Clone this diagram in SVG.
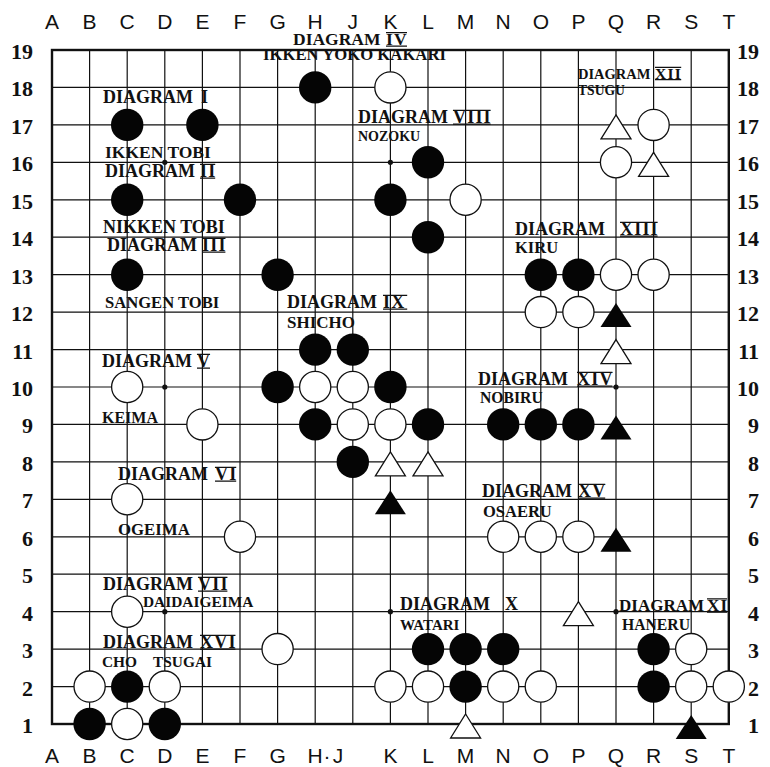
<svg xmlns="http://www.w3.org/2000/svg" xmlns:xlink="http://www.w3.org/1999/xlink" width="770" height="767" viewBox="0 0 770 767">
<style>
.grid{fill:none;stroke:#111;stroke-width:1.2}
.border{fill:none;stroke:#111;stroke-width:2.4}
.b{fill:#050505}
.w{fill:#fff;stroke:#111;stroke-width:1.3}
.tw{fill:#fff;stroke:#111;stroke-width:1.3;stroke-linejoin:miter}
.tb{fill:#050505}
.hoshi{fill:#111}
.col{font-family:"Liberation Sans",Arial,sans-serif;font-size:21px;fill:#111;text-anchor:middle}
.row{font-family:"Liberation Serif","Times New Roman",serif;font-size:22px;font-weight:bold;fill:#111}
.lab{font-family:"Liberation Serif","Times New Roman",serif;font-weight:bold;fill:#111}
.d{font-size:18px}
.num{letter-spacing:1.2px}
.bar{fill:none;stroke:#111;stroke-width:1.2}
</style>
<defs>
<path id="triW" d="M0,-10 L15,14 L-15,14 Z"/>
<path id="triB" d="M0,-9 L15.5,15 L-15.5,15 Z"/>
</defs>
<rect width="770" height="767" fill="#fff"/>

<g id="board">
<path class="grid" d="M89.6 50V724M127.2 50V724M164.8 50V724M202.4 50V724M240 50V724M277.6 50V724M315.2 50V724M352.8 50V724M390.4 50V724M428 50V724M465.6 50V724M503.2 50V724M540.8 50V724M578.4 50V724M616 50V724M653.6 50V724M691.2 50V724M52 87.4H728.8M52 124.9H728.8M52 162.3H728.8M52 199.8H728.8M52 237.2H728.8M52 274.7H728.8M52 312.1H728.8M52 349.6H728.8M52 387H728.8M52 424.4H728.8M52 461.9H728.8M52 499.3H728.8M52 536.8H728.8M52 574.2H728.8M52 611.7H728.8M52 649.1H728.8M52 686.6H728.8"/>
<rect class="border" x="52" y="50" width="676.8" height="674"/>
<g id="hoshi" class="hoshi">
<circle cx="164.8" cy="162.3" r="2.6"/><circle cx="390.4" cy="162.3" r="2.6"/>
<circle cx="164.8" cy="387" r="2.6"/><circle cx="616" cy="387" r="2.6"/>
<circle cx="164.8" cy="611.7" r="2.6"/><circle cx="390.4" cy="611.7" r="2.6"/><circle cx="616" cy="611.7" r="2.6"/>
</g>
</g>

<g id="coords">
<g class="col">
<text x="52" y="29">A</text><text x="89.6" y="29">B</text><text x="127.2" y="29">C</text><text x="164.8" y="29">D</text><text x="202.4" y="29">E</text><text x="240" y="29">F</text><text x="277.6" y="29">G</text><text x="315.2" y="29">H</text><text x="352.8" y="29">J</text><text x="390.4" y="29">K</text><text x="428" y="29">L</text><text x="465.6" y="29">M</text><text x="503.2" y="29">N</text><text x="540.8" y="29">O</text><text x="578.4" y="29">P</text><text x="616" y="29">Q</text><text x="653.6" y="29">R</text><text x="691.2" y="29">S</text><text x="728.8" y="29">T</text>
<text x="52" y="763">A</text><text x="89.6" y="763">B</text><text x="127.2" y="763">C</text><text x="164.8" y="763">D</text><text x="202.4" y="763">E</text><text x="240" y="763">F</text><text x="277.6" y="763">G</text><text x="315.2" y="763">H</text><text x="327" y="763">·</text><text x="338" y="763">J</text><text x="390.4" y="763">K</text><text x="428" y="763">L</text><text x="465.6" y="763">M</text><text x="503.2" y="763">N</text><text x="540.8" y="763">O</text><text x="578.4" y="763">P</text><text x="616" y="763">Q</text><text x="653.6" y="763">R</text><text x="691.2" y="763">S</text><text x="728.8" y="763">T</text>
</g>
<g class="row" text-anchor="end">
<text x="33" y="59">19</text><text x="33" y="96.4">18</text><text x="33" y="133.9">17</text><text x="33" y="171.3">16</text><text x="33" y="208.8">15</text><text x="33" y="246.2">14</text><text x="33" y="283.7">13</text><text x="33" y="321.1">12</text><text x="33" y="358.6">11</text><text x="33" y="396">10</text><text x="33" y="433.4">9</text><text x="33" y="470.9">8</text><text x="33" y="508.3">7</text><text x="33" y="545.8">6</text><text x="33" y="583.2">5</text><text x="33" y="620.7">4</text><text x="33" y="658.1">3</text><text x="33" y="695.6">2</text><text x="33" y="733">1</text>
<text x="759" y="59">19</text><text x="759" y="96.4">18</text><text x="759" y="133.9">17</text><text x="759" y="171.3">16</text><text x="759" y="208.8">15</text><text x="759" y="246.2">14</text><text x="759" y="283.7">13</text><text x="759" y="321.1">12</text><text x="759" y="358.6">11</text><text x="759" y="396">10</text><text x="759" y="433.4">9</text><text x="759" y="470.9">8</text><text x="759" y="508.3">7</text><text x="759" y="545.8">6</text><text x="759" y="583.2">5</text><text x="759" y="620.7">4</text><text x="759" y="658.1">3</text><text x="759" y="695.6">2</text><text x="759" y="733">1</text>
</g>
</g>

<g id="labels" class="lab">
<text class="d" x="103" y="103">DIAGRAM <tspan x="201">I</tspan></text>
<text x="105" y="158" font-size="17.5">IKKEN TOBI</text>
<text class="d" x="105" y="177">DIAGRAM <tspan class="num" x="200">II</tspan></text>
<text x="103" y="233" font-size="18">NIKKEN TOBI</text>
<text class="d" x="107" y="251">DIAGRAM <tspan class="num" x="202">III</tspan></text>
<text x="105" y="308" font-size="16.6">SANGEN TOBI</text>
<text x="293" y="45" font-size="17.5">DIAGRAM <tspan class="num" x="386">IV</tspan></text>
<text x="263" y="60" font-size="16.7">IKKEN YOKO KAKARI</text>
<text class="d" x="358" y="123">DIAGRAM <tspan class="num" x="453">VIII</tspan></text>
<text x="358" y="141" font-size="14">NOZOKU</text>
<text x="578" y="78.5" font-size="14.5">DIAGRAM <tspan class="num" x="655" font-size="15.5">XII</tspan></text>
<text x="578" y="95" font-size="13.6">TSUGU</text>
<text class="d" x="515" y="235">DIAGRAM <tspan class="num" x="620">XIII</tspan></text>
<text x="515" y="253" font-size="16.5">KIRU</text>
<text class="d" x="287" y="308">DIAGRAM <tspan class="num" x="383" letter-spacing="4">IX</tspan></text>
<text x="287" y="328" font-size="17">SHICHO</text>
<text class="d" x="102" y="367">DIAGRAM <tspan class="num" x="197">V</tspan></text>
<text x="102" y="423" font-size="16">KEIMA</text>
<text class="d" x="118" y="480">DIAGRAM <tspan class="num" x="215">VI</tspan></text>
<text x="118" y="535" font-size="16.8">OGEIMA</text>
<text class="d" x="103" y="590">DIAGRAM <tspan class="num" x="198">VII</tspan></text>
<text x="143" y="607" font-size="15.4">DAIDAIGEIMA</text>
<text class="d" x="478" y="385">DIAGRAM <tspan class="num" x="577">XIV</tspan></text>
<text x="480" y="403" font-size="15.7">NOBIRU</text>
<text class="d" x="482" y="497">DIAGRAM <tspan class="num" x="578">XV</tspan></text>
<text x="483" y="517" font-size="16.5">OSAERU</text>
<text class="d" x="400" y="610">DIAGRAM <tspan x="505">X</tspan></text>
<text x="400" y="630" font-size="15">WATARI</text>
<text x="619" y="611" font-size="17">DIAGRAM <tspan class="num" x="707">XI</tspan></text>
<text x="622" y="630" font-size="15.7">HANERU</text>
<text class="d" x="103" y="648">DIAGRAM <tspan class="num" x="200">XVI</tspan></text>
<text x="102" y="667" font-size="15.4">CHO <tspan x="153">TSUGAI</tspan></text>
<path class="bar" d="M200 164.3H215.2M200 178.2H215.2M202 238.3H225.4M202 252.2H225.4M386 32.6H407M386 46.2H407M453 110.3H490.6M453 124.2H490.6M655 67.4H681.2M655 79.7H681.2M620 222.3H657.6M620 236.2H657.6M383 295.3H407.2M383 309.2H407.2M197 354.3H210M197 368.2H210M215 467.3H236.2M215 481.2H236.2M198 577.3H227.4M198 591.2H227.4M577 372.3H612.4M577 386.2H612.4M578 484.3H605.2M578 498.2H605.2M707 598.9H727.1M707 612.2H727.1M200 635.3H235.4M200 649.2H235.4"/>
</g>

<g id="stones">
<g id="diagram-1"><circle class="b" cx="127.2" cy="124.9" r="16.2"/><circle class="b" cx="202.4" cy="124.9" r="16.2"/></g>
<g id="diagram-2"><circle class="b" cx="127.2" cy="199.8" r="16.2"/><circle class="b" cx="240" cy="199.8" r="16.2"/></g>
<g id="diagram-3"><circle class="b" cx="127.2" cy="274.7" r="16.2"/><circle class="b" cx="277.6" cy="274.7" r="16.2"/></g>
<g id="diagram-4"><circle class="b" cx="315.2" cy="87.4" r="16.2"/><circle class="w" cx="390.4" cy="87.4" r="15.6"/></g>
<g id="diagram-5"><circle class="w" cx="127.2" cy="387" r="15.6"/><circle class="w" cx="202.4" cy="424.4" r="15.6"/></g>
<g id="diagram-6"><circle class="w" cx="127.2" cy="499.3" r="15.6"/><circle class="w" cx="240" cy="536.8" r="15.6"/></g>
<g id="diagram-7"><circle class="w" cx="127.2" cy="611.7" r="15.6"/><circle class="w" cx="277.6" cy="649.1" r="15.6"/></g>
<g id="diagram-8"><circle class="b" cx="428" cy="162.3" r="16.2"/><circle class="b" cx="390.4" cy="199.8" r="16.2"/><circle class="b" cx="428" cy="237.2" r="16.2"/><circle class="w" cx="465.6" cy="199.8" r="15.6"/></g>
<g id="diagram-9">
<circle class="b" cx="315.2" cy="349.6" r="16.2"/><circle class="b" cx="352.8" cy="349.6" r="16.2"/>
<circle class="b" cx="277.6" cy="387" r="16.2"/><circle class="w" cx="315.2" cy="387" r="15.6"/><circle class="w" cx="352.8" cy="387" r="15.6"/><circle class="b" cx="390.4" cy="387" r="16.2"/>
<circle class="b" cx="315.2" cy="424.4" r="16.2"/><circle class="w" cx="352.8" cy="424.4" r="15.6"/><circle class="w" cx="390.4" cy="424.4" r="15.6"/><circle class="b" cx="428" cy="424.4" r="16.2"/>
<circle class="b" cx="352.8" cy="461.9" r="16.2"/>
<use xlink:href="#triW" class="tw" x="390.4" y="461.9"/><use xlink:href="#triW" class="tw" x="428" y="461.9"/>
<use xlink:href="#triB" class="tb" x="390.4" y="499.3"/>
</g>
<g id="diagram-10">
<circle class="b" cx="428" cy="649.1" r="16.2"/><circle class="b" cx="465.6" cy="649.1" r="16.2"/><circle class="b" cx="503.2" cy="649.1" r="16.2"/>
<circle class="w" cx="390.4" cy="686.6" r="15.6"/><circle class="w" cx="428" cy="686.6" r="15.6"/><circle class="b" cx="465.6" cy="686.6" r="16.2"/><circle class="w" cx="503.2" cy="686.6" r="15.6"/><circle class="w" cx="540.8" cy="686.6" r="15.6"/>
<use xlink:href="#triW" class="tw" x="465.6" y="724"/>
<use xlink:href="#triW" class="tw" x="578.4" y="611.7"/>
</g>
<g id="diagram-11">
<circle class="b" cx="653.6" cy="649.1" r="16.2"/><circle class="w" cx="691.2" cy="649.1" r="15.6"/>
<circle class="b" cx="653.6" cy="686.6" r="16.2"/><circle class="w" cx="691.2" cy="686.6" r="15.6"/><circle class="w" cx="728.8" cy="686.6" r="15.6"/>
<use xlink:href="#triB" class="tb" x="691.2" y="724"/>
</g>
<g id="diagram-12">
<use xlink:href="#triW" class="tw" x="616" y="124.9"/><circle class="w" cx="653.6" cy="124.9" r="15.6"/>
<circle class="w" cx="616" cy="162.3" r="15.6"/><use xlink:href="#triW" class="tw" x="653.6" y="162.3"/>
</g>
<g id="diagram-13">
<circle class="b" cx="540.8" cy="274.7" r="16.2"/><circle class="b" cx="578.4" cy="274.7" r="16.2"/><circle class="w" cx="616" cy="274.7" r="15.6"/><circle class="w" cx="653.6" cy="274.7" r="15.6"/>
<circle class="w" cx="540.8" cy="312.1" r="15.6"/><circle class="w" cx="578.4" cy="312.1" r="15.6"/><use xlink:href="#triB" class="tb" x="616" y="312.1"/>
<use xlink:href="#triW" class="tw" x="616" y="349.6"/>
</g>
<g id="diagram-14">
<circle class="b" cx="503.2" cy="424.4" r="16.2"/><circle class="b" cx="540.8" cy="424.4" r="16.2"/><circle class="b" cx="578.4" cy="424.4" r="16.2"/><use xlink:href="#triB" class="tb" x="616" y="424.4"/>
</g>
<g id="diagram-15">
<circle class="w" cx="503.2" cy="536.8" r="15.6"/><circle class="w" cx="540.8" cy="536.8" r="15.6"/><circle class="w" cx="578.4" cy="536.8" r="15.6"/><use xlink:href="#triB" class="tb" x="616" y="536.8"/>
</g>
<g id="diagram-16">
<circle class="w" cx="89.6" cy="686.6" r="15.6"/><circle class="b" cx="127.2" cy="686.6" r="16.2"/><circle class="w" cx="164.8" cy="686.6" r="15.6"/>
<circle class="b" cx="89.6" cy="724" r="16.2"/><circle class="w" cx="127.2" cy="724" r="15.6"/><circle class="b" cx="164.8" cy="724" r="16.2"/>
</g>
</g>
</svg>
